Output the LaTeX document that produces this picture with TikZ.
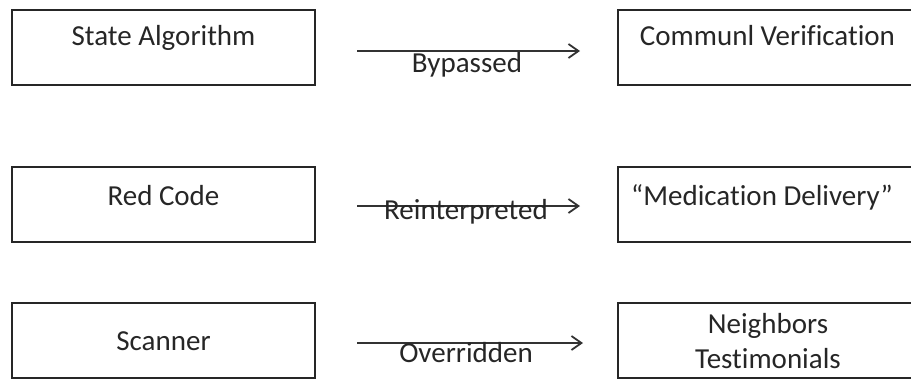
\documentclass[tikz,border=0pt]{standalone}
\usepackage{fontspec}
\setmainfont[RawFeature={-liga;-clig;-dlig}]{Carlito}
\newcommand{\nolig}{\kern0pt}
\usetikzlibrary{arrows.meta}
\begin{document}
\begin{tikzpicture}[x=1pt,y=-1pt,
  boxnode/.style={draw=black!85,line width=1.6pt,minimum width=303pt,minimum height=75pt,inner sep=0pt,outer sep=0pt},
  txt/.style={anchor=base,inner sep=0pt,text=black!85,font=\fontsize{29}{35}\selectfont},
  arr/.style={draw=black!80,line width=1.8pt,-{Straight Barb[length=10pt,width=14pt,line width=1.8pt]}}]
\useasboundingbox (0,0) rectangle (911,378);
\clip (0,0) rectangle (911,378);
% boxes
\node[boxnode] (l1) at (163.5,47.5) {};
\node[boxnode] (l2) at (163.5,204.5) {};
\node[boxnode] (l3) at (163.5,340.5) {};
\node[boxnode] (r1) at (769.5,47.5) {};
\node[boxnode] (r2) at (769.5,204.5) {};
\node[boxnode] (r3) at (769.5,340.5) {};
% texts
\node[txt] (t1) at (163.5,45) {State Algorithm};
\node[txt] (t2) at (163.5,205) {Red Code};
\node[txt] (t3) at (163.5,350) {Scanner};
\node[txt] (u1) at (767.5,45) {Communl Verificat\nolig ion};
\node[txt] (u2) at (762,205) {“Medicat\nolig ion Delivery”};
\node[txt] (u3a) at (768,333) {Neighbors};
\node[txt] (u3b) at (768,368) {Test\nolig imonials};
% arrows
\draw[arr,shorten <=42pt,shorten >=38pt] ([yshift=-3.5pt]l1.east) -- ([yshift=-3.5pt]r1.west);
\draw[arr,shorten <=42pt,shorten >=38pt] ([yshift=-1.5pt]l2.east) -- ([yshift=-1.5pt]r2.west);
\draw[arr,shorten <=42pt,shorten >=35pt] ([yshift=-2.5pt]l3.east) -- ([yshift=-2.5pt]r3.west);
% labels
\node[txt] (a1) at (467,72) {Bypassed};
\node[txt] (a2) at (466,219) {Reinterpreted};
\node[txt] (a3) at (466,362) {Overridden};
\end{tikzpicture}
\end{document}
